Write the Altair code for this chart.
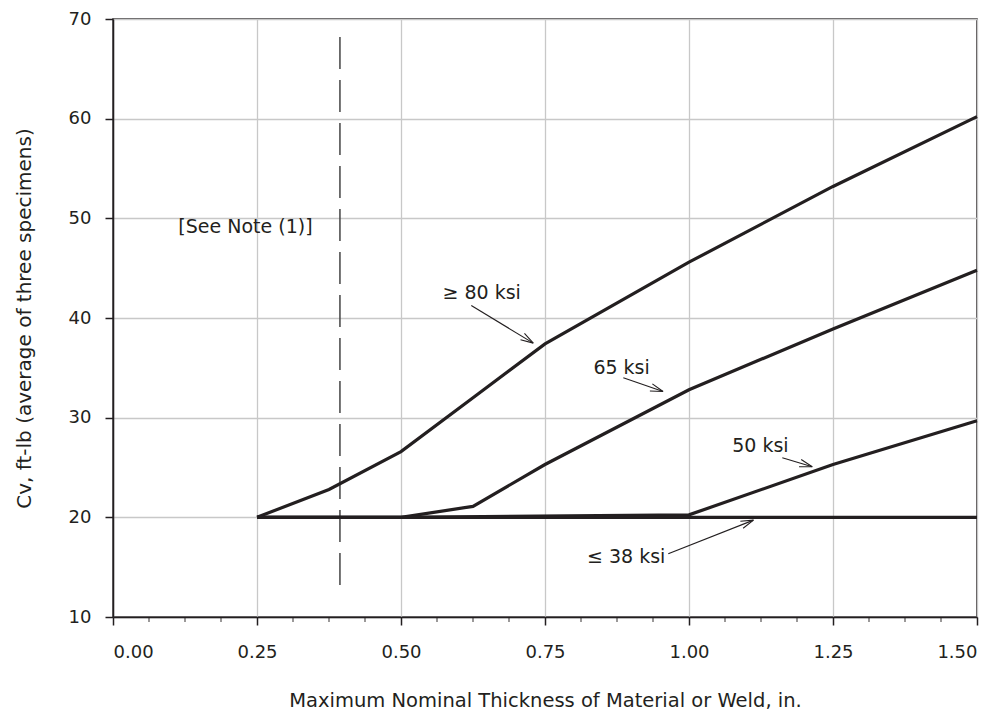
import math
import pandas as pd
import altair as alt

# ---- data ----
series_names = ["≥80", "65", "50", "≤38"]
x_80 = [0.25, 0.375, 0.5, 0.625, 0.75, 1.0, 1.25, 1.5]
y_80 = [20.0, 22.8, 26.6, 32.0, 37.4, 45.6, 53.2, 60.2]
x_65 = [0.25, 0.5, 0.625, 0.75, 1.0, 1.25, 1.5]
y_65 = [20.0, 20.0, 21.1, 25.3, 32.8, 38.9, 44.8]
x_50 = [0.25, 0.5, 1.0, 1.25, 1.5]
y_50 = [20.0, 20.0, 20.25, 25.3, 29.7]
x_38 = [0.25, 1.5]
y_38 = [20.0, 20.0]

x_ticks = [0.0, 0.25, 0.5, 0.75, 1.0, 1.25, 1.5]
x_minor = [i / 16 for i in range(25) if i % 4 != 0]
y_ticks = [10, 20, 30, 40, 50, 60, 70]

note_x = [0.394]          # dashed limit line (10 mm)
note_y_top = [68.2]
note_y_bot = [13.2]

ann_text = ["≥ 80 ksi", "65 ksi", "50 ksi", "≤ 38 ksi"]
ann_tx = [0.640, 0.883, 1.124, 0.891]
ann_ty = [42.5, 35.0, 27.2, 16.05]
arr_x1 = [0.622, 0.886, 1.162, 0.964]
arr_y1 = [41.25, 34.0, 25.97, 16.35]
arr_x2 = [0.7297, 0.955, 1.214, 1.112]
arr_y2 = [37.48, 32.62, 25.08, 19.72]

note_text = ["[See Note (1)]"]
note_tx = [0.1134]
note_ty = [49.1]

# ---- layout ----
W, H = 864, 598
XDOM = [0, 1.5]
YDOM = [10, 70]
INK = "#231f20"
FONT = "DejaVu Sans"

rows = []
for name, xs, ys in zip(series_names, [x_80, x_65, x_50, x_38], [y_80, y_65, y_50, y_38]):
    for i, (a, b) in enumerate(zip(xs, ys)):
        rows.append({"series": name, "t": a, "cv": b, "order": i})
lines_df = pd.DataFrame(rows)

px_x = W / (XDOM[1] - XDOM[0])
px_y = H / (YDOM[1] - YDOM[0])
angles = []
for a1, b1, a2, b2 in zip(arr_x1, arr_y1, arr_x2, arr_y2):
    ang = math.degrees(math.atan2(-(b2 - b1) * px_y, (a2 - a1) * px_x)) % 360
    angles.append(ang)

ann_df = pd.DataFrame({"text": ann_text, "tx": ann_tx, "ty": ann_ty,
                       "x1": arr_x1, "y1": arr_y1, "x2": arr_x2, "y2": arr_y2,
                       "angle": angles})
note_df = pd.DataFrame({"text": note_text, "tx": note_tx, "ty": note_ty})
dash_df = pd.DataFrame({"x": note_x, "y": note_y_top, "y2": note_y_bot})
minor_df = pd.DataFrame({"x": x_minor, "y": [YDOM[0]] * len(x_minor)})

xscale = alt.Scale(domain=XDOM, nice=False, zero=False)
yscale = alt.Scale(domain=YDOM, nice=False, zero=False)

xaxis = alt.Axis(values=x_ticks, format=".2f", title="Maximum Nominal Thickness of Material or Weld, in.",
                 grid=True, tickSize=8, labelPadding=18, titlePadding=30, titleFontSize=19.5)
yaxis = alt.Axis(values=y_ticks, format="d", title="Cv, ft-lb (average of three specimens)",
                 grid=True, tickSize=8, labelPadding=14, titlePadding=34)

base_lines = alt.Chart(lines_df).mark_line(color=INK, strokeWidth=3.2, strokeJoin="miter").encode(
    x=alt.X("t:Q", scale=xscale, axis=xaxis),
    y=alt.Y("cv:Q", scale=yscale, axis=yaxis),
    detail="series:N",
    order="order:Q",
)

dash = alt.Chart(dash_df).mark_rule(color="#444444", strokeWidth=1.5, strokeDash=[32, 11]).encode(
    x=alt.X("x:Q", scale=xscale), y=alt.Y("y:Q", scale=yscale), y2="y2:Q"
)

minor = alt.Chart(minor_df).mark_tick(orient="vertical", size=5, thickness=1.3, color=INK, yOffset=2.5).encode(
    x=alt.X("x:Q", scale=xscale), y=alt.Y("y:Q", scale=yscale)
)

shafts = alt.Chart(ann_df).mark_rule(color=INK, strokeWidth=1.1).encode(
    x=alt.X("x1:Q", scale=xscale), y=alt.Y("y1:Q", scale=yscale), x2="x2:Q", y2="y2:Q"
)

heads = alt.Chart(ann_df).mark_point(
    shape="M0,0L-1,-0.3M0,0L-1,0.3", filled=False, size=640, color=INK, strokeWidth=1.1, opacity=1
).encode(
    x=alt.X("x2:Q", scale=xscale), y=alt.Y("y2:Q", scale=yscale), angle=alt.Angle("angle:Q", scale=None)
)

labels = alt.Chart(ann_df).mark_text(font=FONT, fontSize=19, color=INK, align="center", baseline="middle").encode(
    x=alt.X("tx:Q", scale=xscale), y=alt.Y("ty:Q", scale=yscale), text="text:N"
)

note = alt.Chart(note_df).mark_text(font=FONT, fontSize=19, color=INK, align="left", baseline="middle").encode(
    x=alt.X("tx:Q", scale=xscale), y=alt.Y("ty:Q", scale=yscale), text="text:N"
)

chart = alt.layer(dash, base_lines, minor, shafts, heads, labels, note).properties(
    width=W, height=H,
    autosize=alt.AutoSizeParams(type="none"),
    padding={"left": 105, "top": 11, "right": 15, "bottom": 96},
).configure_view(
    stroke=INK, strokeWidth=1.5
).configure_axis(
    labelFont=FONT, labelFontSize=18, labelColor=INK,
    titleFont=FONT, titleFontSize=20, titleColor=INK, titleFontWeight="normal",
    domainColor=INK, domainWidth=1.5, tickColor=INK, tickWidth=1.5,
    gridColor="#c8c8c8", gridWidth=1.3,
)

chart.save("out.html", embed_options={"renderer": "svg", "actions": False})
